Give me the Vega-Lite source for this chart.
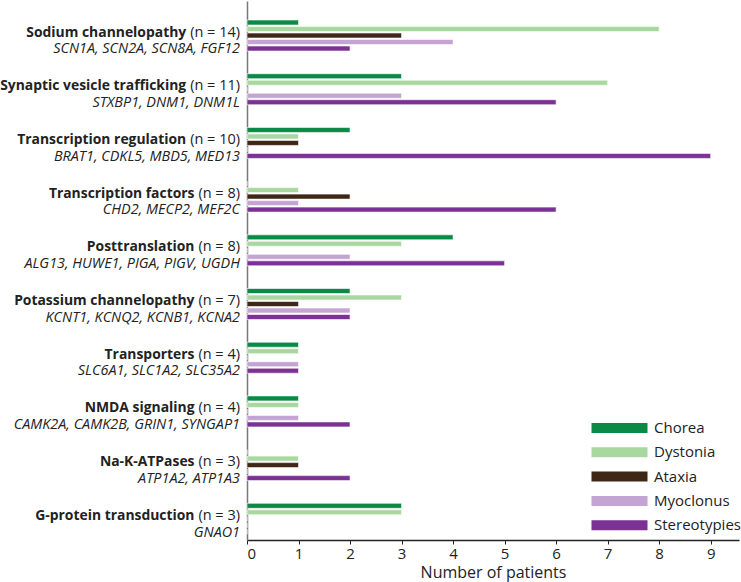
{
  "$schema": "https://vega.github.io/schema/vega-lite/v6.json",
  "width": 492,
  "height": 539,
  "autosize": {"type": "none"},
  "padding": {"left": 247, "top": 1, "right": 2, "bottom": 42},
  "config": {
    "view": {"stroke": null},
    "font": "Open Sans",
    "axis": {"grid": false, "labelFont": "Open Sans", "titleFont": "Open Sans"}
  },
  "datasets": {
    "counts": [
      {"group": "Sodium channelopathy", "symptom": "Chorea", "patients": 1},
      {"group": "Sodium channelopathy", "symptom": "Dystonia", "patients": 8},
      {"group": "Sodium channelopathy", "symptom": "Ataxia", "patients": 3},
      {"group": "Sodium channelopathy", "symptom": "Myoclonus", "patients": 4},
      {"group": "Sodium channelopathy", "symptom": "Stereotypies", "patients": 2},
      {"group": "Synaptic vesicle trafficking", "symptom": "Chorea", "patients": 3},
      {"group": "Synaptic vesicle trafficking", "symptom": "Dystonia", "patients": 7},
      {"group": "Synaptic vesicle trafficking", "symptom": "Ataxia", "patients": 0},
      {"group": "Synaptic vesicle trafficking", "symptom": "Myoclonus", "patients": 3},
      {"group": "Synaptic vesicle trafficking", "symptom": "Stereotypies", "patients": 6},
      {"group": "Transcription regulation", "symptom": "Chorea", "patients": 2},
      {"group": "Transcription regulation", "symptom": "Dystonia", "patients": 1},
      {"group": "Transcription regulation", "symptom": "Ataxia", "patients": 1},
      {"group": "Transcription regulation", "symptom": "Myoclonus", "patients": 0},
      {"group": "Transcription regulation", "symptom": "Stereotypies", "patients": 9},
      {"group": "Transcription factors", "symptom": "Chorea", "patients": 0},
      {"group": "Transcription factors", "symptom": "Dystonia", "patients": 1},
      {"group": "Transcription factors", "symptom": "Ataxia", "patients": 2},
      {"group": "Transcription factors", "symptom": "Myoclonus", "patients": 1},
      {"group": "Transcription factors", "symptom": "Stereotypies", "patients": 6},
      {"group": "Posttranslation", "symptom": "Chorea", "patients": 4},
      {"group": "Posttranslation", "symptom": "Dystonia", "patients": 3},
      {"group": "Posttranslation", "symptom": "Ataxia", "patients": 0},
      {"group": "Posttranslation", "symptom": "Myoclonus", "patients": 2},
      {"group": "Posttranslation", "symptom": "Stereotypies", "patients": 5},
      {"group": "Potassium channelopathy", "symptom": "Chorea", "patients": 2},
      {"group": "Potassium channelopathy", "symptom": "Dystonia", "patients": 3},
      {"group": "Potassium channelopathy", "symptom": "Ataxia", "patients": 1},
      {"group": "Potassium channelopathy", "symptom": "Myoclonus", "patients": 2},
      {"group": "Potassium channelopathy", "symptom": "Stereotypies", "patients": 2},
      {"group": "Transporters", "symptom": "Chorea", "patients": 1},
      {"group": "Transporters", "symptom": "Dystonia", "patients": 1},
      {"group": "Transporters", "symptom": "Ataxia", "patients": 0},
      {"group": "Transporters", "symptom": "Myoclonus", "patients": 1},
      {"group": "Transporters", "symptom": "Stereotypies", "patients": 1},
      {"group": "NMDA signaling", "symptom": "Chorea", "patients": 1},
      {"group": "NMDA signaling", "symptom": "Dystonia", "patients": 1},
      {"group": "NMDA signaling", "symptom": "Ataxia", "patients": 0},
      {"group": "NMDA signaling", "symptom": "Myoclonus", "patients": 1},
      {"group": "NMDA signaling", "symptom": "Stereotypies", "patients": 2},
      {"group": "Na-K-ATPases", "symptom": "Chorea", "patients": 0},
      {"group": "Na-K-ATPases", "symptom": "Dystonia", "patients": 1},
      {"group": "Na-K-ATPases", "symptom": "Ataxia", "patients": 1},
      {"group": "Na-K-ATPases", "symptom": "Myoclonus", "patients": 0},
      {"group": "Na-K-ATPases", "symptom": "Stereotypies", "patients": 2},
      {"group": "G-protein transduction", "symptom": "Chorea", "patients": 3},
      {"group": "G-protein transduction", "symptom": "Dystonia", "patients": 3},
      {"group": "G-protein transduction", "symptom": "Ataxia", "patients": 0},
      {"group": "G-protein transduction", "symptom": "Myoclonus", "patients": 0},
      {"group": "G-protein transduction", "symptom": "Stereotypies", "patients": 0}
    ],
    "groups": [
      {"group": "Sodium channelopathy", "n": 14, "nlabel": "(n = 14)", "genes": "SCN1A, SCN2A, SCN8A, FGF12"},
      {"group": "Synaptic vesicle trafficking", "n": 11, "nlabel": "(n = 11)", "genes": "STXBP1, DNM1, DNM1L"},
      {"group": "Transcription regulation", "n": 10, "nlabel": "(n = 10)", "genes": "BRAT1, CDKL5, MBD5, MED13"},
      {"group": "Transcription factors", "n": 8, "nlabel": "(n = 8)", "genes": "CHD2, MECP2, MEF2C"},
      {"group": "Posttranslation", "n": 8, "nlabel": "(n = 8)", "genes": "ALG13, HUWE1, PIGA, PIGV, UGDH"},
      {"group": "Potassium channelopathy", "n": 7, "nlabel": "(n = 7)", "genes": "KCNT1, KCNQ2, KCNB1, KCNA2"},
      {"group": "Transporters", "n": 4, "nlabel": "(n = 4)", "genes": "SLC6A1, SLC1A2, SLC35A2"},
      {"group": "NMDA signaling", "n": 4, "nlabel": "(n = 4)", "genes": "CAMK2A, CAMK2B, GRIN1, SYNGAP1"},
      {"group": "Na-K-ATPases", "n": 3, "nlabel": "(n = 3)", "genes": "ATP1A2, ATP1A3"},
      {"group": "G-protein transduction", "n": 3, "nlabel": "(n = 3)", "genes": "GNAO1"}
    ]
  },
  "encoding": {
    "y": {
      "field": "group",
      "type": "nominal",
      "scale": {
        "domain": ["Sodium channelopathy", "Synaptic vesicle trafficking", "Transcription regulation", "Transcription factors", "Posttranslation", "Potassium channelopathy", "Transporters", "NMDA signaling", "Na-K-ATPases", "G-protein transduction"],
        "paddingInner": 0.4227,
        "paddingOuter": 0.23,
        "align": 0.77
      },
      "axis": {"labels": false, "ticks": false, "title": null, "domainColor": "#777777", "domainWidth": 1.5}
    }
  },
  "layer": [
    {
      "data": {"name": "counts"},
      "mark": {"type": "bar", "stroke": "white", "strokeWidth": 0.6},
      "encoding": {
        "yOffset": {
          "field": "symptom",
          "type": "nominal",
          "scale": {"domain": ["Chorea", "Dystonia", "Ataxia", "Myoclonus", "Stereotypies"], "paddingInner": 0.23, "paddingOuter": 0}
        },
        "x": {
          "field": "patients",
          "type": "quantitative",
          "scale": {"domain": [0, 9.55], "nice": false, "zero": true},
          "axis": {
            "title": "Number of patients",
            "values": [0, 1, 2, 3, 4, 5, 6, 7, 8, 9],
            "tickSize": 4,
            "tickColor": "#222222",
            "domainColor": "#222222",
            "domainWidth": 1.5,
            "labelFontSize": 15,
            "labelColor": "#222222",
            "labelPadding": 2,
            "titleFontSize": 16,
            "titleFontWeight": "normal",
            "titleColor": "#222222",
            "titlePadding": 3
          }
        },
        "color": {
          "field": "symptom",
          "type": "nominal",
          "scale": {
            "domain": ["Chorea", "Dystonia", "Ataxia", "Myoclonus", "Stereotypies"],
            "range": ["#0b8a47", "#a8d8a0", "#3f2718", "#c4a4d2", "#7b3294"]
          },
          "legend": {
            "title": null,
            "orient": "none",
            "legendX": 365,
            "legendY": 419.5,
            "symbolType": "M-5.6,-1L5.6,-1L5.6,1L-5.6,1Z",
            "symbolSize": 100,
            "symbolStrokeWidth": 0,
            "symbolOpacity": 1,
            "labelFontSize": 15,
            "labelColor": "#222222",
            "labelOffset": 27,
            "rowPadding": 8.3,
            "padding": 0
          }
        }
      }
    },
    {
      "data": {"name": "groups"},
      "transform": [{"filter": "datum.n >= 10"}],
      "mark": {"type": "text", "align": "right", "baseline": "alphabetic", "dx": -60.8, "dy": 1, "fontSize": 13.9, "fontWeight": "bold", "color": "#222222"},
      "encoding": {"x": {"datum": 0}, "text": {"field": "group"}}
    },
    {
      "data": {"name": "groups"},
      "transform": [{"filter": "datum.n < 10"}],
      "mark": {"type": "text", "align": "right", "baseline": "alphabetic", "dx": -52.5, "dy": 1, "fontSize": 13.9, "fontWeight": "bold", "color": "#222222"},
      "encoding": {"x": {"datum": 0}, "text": {"field": "group"}}
    },
    {
      "data": {"name": "groups"},
      "mark": {"type": "text", "align": "right", "baseline": "alphabetic", "dx": -7, "dy": 1, "fontSize": 14.5, "color": "#222222"},
      "encoding": {"x": {"datum": 0}, "text": {"field": "nlabel"}}
    },
    {
      "data": {"name": "groups"},
      "mark": {"type": "text", "align": "right", "baseline": "alphabetic", "dx": -7, "dy": 17.7, "fontSize": 14.4, "fontStyle": "italic", "color": "#222222"},
      "encoding": {"x": {"datum": 0}, "text": {"field": "genes"}}
    }
  ]
}
